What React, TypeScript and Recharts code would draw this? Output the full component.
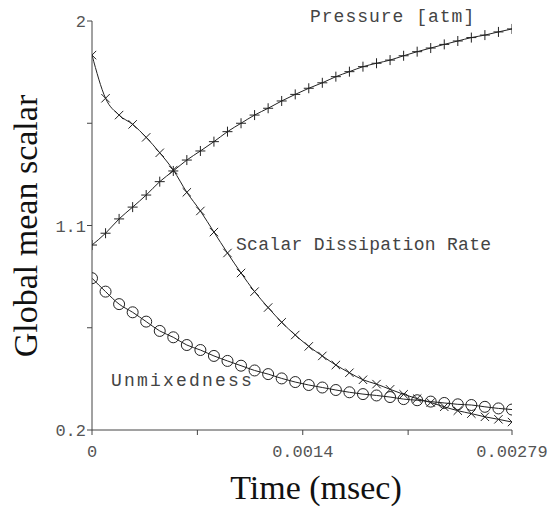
import React from "react";
import { LineChart, Line, XAxis, YAxis, Customized } from "recharts";

const times = [
  0, 0.00009, 0.00018, 0.00027, 0.00036, 0.00045, 0.00054, 0.00063, 0.00072, 0.00081,
  0.0009, 0.00099, 0.00108, 0.00117, 0.00126, 0.00135, 0.00144, 0.00153, 0.00162, 0.00171,
  0.0018, 0.00189, 0.00198, 0.00207, 0.00216, 0.00225, 0.00234, 0.00243, 0.00252, 0.00261,
  0.0027, 0.00279,
];

const pressure = [
  1.014, 1.066, 1.129, 1.181, 1.234, 1.293, 1.34, 1.388, 1.428, 1.469,
  1.513, 1.55, 1.586, 1.616, 1.648, 1.677, 1.704, 1.728, 1.755, 1.777,
  1.799, 1.814, 1.828, 1.847, 1.865, 1.881, 1.897, 1.912, 1.927, 1.938,
  1.952, 1.965,
];

const dissipation = [
  1.85, 1.66, 1.586, 1.545, 1.488, 1.42, 1.344, 1.246, 1.164, 1.071,
  0.979, 0.891, 0.809, 0.739, 0.674, 0.618, 0.568, 0.526, 0.486, 0.452,
  0.421, 0.402, 0.379, 0.357, 0.338, 0.321, 0.302, 0.285, 0.272, 0.258,
  0.247, 0.235,
];

const unmixedness = [
  0.868, 0.809, 0.754, 0.718, 0.677, 0.636, 0.608, 0.574, 0.552, 0.526,
  0.504, 0.483, 0.462, 0.446, 0.427, 0.411, 0.398, 0.387, 0.376, 0.366,
  0.358, 0.352, 0.345, 0.336, 0.331, 0.325, 0.319, 0.313, 0.31, 0.302,
  0.295, 0.29,
];

const xTicks = [0, 0.0007, 0.0014, 0.0021, 0.00279];
const xTickLabels = ["0", "", "0.0014", "", "0.00279"];
const yTicks = [0.2, 0.65, 1.1, 1.55, 2];
const yTickLabels = ["0.2", "", "1.1", "", "2"];

const seriesNames = ["Pressure [atm]", "Scalar Dissipation Rate", "Unmixedness"];
const xTitle = "Time (msec)";
const yTitle = "Global mean scalar";

const data = times.map((t, i) => ({
  t,
  pressure: pressure[i],
  dissipation: dissipation[i],
  unmixedness: unmixedness[i],
}));

const INK = "#222";
const MONO = "'Liberation Mono', 'DejaVu Sans Mono', monospace";
const SERIF = "'Liberation Serif', 'DejaVu Serif', serif";

const PlusDot = (p: any) => {
  const { cx, cy } = p;
  if (cx == null || cy == null) return null;
  const s = 5;
  return (
    <path
      d={`M${cx - s},${cy}H${cx + s}M${cx},${cy - s}V${cy + s}`}
      stroke={INK}
      strokeWidth={1}
      fill="none"
    />
  );
};

const CrossDot = (p: any) => {
  const { cx, cy } = p;
  if (cx == null || cy == null) return null;
  const s = 4.2;
  return (
    <path
      d={`M${cx - s},${cy - s}L${cx + s},${cy + s}M${cx - s},${cy + s}L${cx + s},${cy - s}`}
      stroke={INK}
      strokeWidth={1}
      fill="none"
    />
  );
};

const CircleDot = (p: any) => {
  const { cx, cy } = p;
  if (cx == null || cy == null) return null;
  return <circle cx={cx} cy={cy} r={5.5} stroke={INK} strokeWidth={1} fill="none" />;
};

const XTick = (props: any) => {
  const { x, y, payload } = props;
  const idx = xTicks.indexOf(payload.value);
  const label = idx >= 0 ? xTickLabels[idx] : "";
  if (!label) return null;
  return (
    <text x={x} y={y} dy={20} textAnchor="middle" fontFamily={MONO} fontSize={17} fill="#555">
      {label}
    </text>
  );
};

const YTick = (props: any) => {
  const { x, y, payload } = props;
  const idx = yTicks.indexOf(payload.value);
  const label = idx >= 0 ? yTickLabels[idx] : "";
  if (!label) return null;
  return (
    <text x={x + 1} y={y} dy={6} textAnchor="end" fontFamily={MONO} fontSize={17} fill="#555">
      {label}
    </text>
  );
};

const Annotations = () => (
  <g>
    <text x={310} y={22} fontFamily={MONO} fontSize={18} letterSpacing={1} fill="#444">
      {seriesNames[0]}
    </text>
    <text x={236} y={250} fontFamily={MONO} fontSize={18} letterSpacing={0.3} fill="#444">
      {seriesNames[1]}
    </text>
    <text x={111} y={386} fontFamily={MONO} fontSize={18} letterSpacing={2.2} fill="#444">
      {seriesNames[2]}
    </text>
    <text x={316} y={499} textAnchor="middle" fontFamily={SERIF} fontSize={34} fill="#111">
      {xTitle}
    </text>
    <text
      x={37}
      y={226}
      textAnchor="middle"
      transform="rotate(-90 37 226)"
      fontFamily={SERIF}
      fontSize={34}
      fill="#111"
    >
      {yTitle}
    </text>
  </g>
);

export default function App() {
  return (
    <div style={{ position: "absolute", left: 0, top: 0, width: 551, height: 507, background: "#fff" }}>
      <LineChart
        width={551}
        height={507}
        data={data}
        margin={{ top: 21, right: 39, left: 0, bottom: 0 }}
      >
        <XAxis
          dataKey="t"
          type="number"
          domain={[0, 0.00279]}
          ticks={xTicks}
          interval={0}
          height={77}
          stroke="#444"
          tickSize={5}
          tick={<XTick />}
          allowDataOverflow
        />
        <YAxis
          type="number"
          domain={[0.2, 2]}
          ticks={yTicks}
          interval={0}
          width={92}
          stroke="#444"
          tickSize={5}
          tick={<YTick />}
          allowDataOverflow
        />
        <Line
          dataKey="pressure"
          type="monotone"
          stroke={INK}
          strokeWidth={1}
          dot={<PlusDot />}
          isAnimationActive={false}
        />
        <Line
          dataKey="dissipation"
          type="monotone"
          stroke={INK}
          strokeWidth={1}
          dot={<CrossDot />}
          isAnimationActive={false}
        />
        <Line
          dataKey="unmixedness"
          type="monotone"
          stroke={INK}
          strokeWidth={1}
          dot={<CircleDot />}
          isAnimationActive={false}
        />
        <Customized component={Annotations} />
      </LineChart>
    </div>
  );
}
